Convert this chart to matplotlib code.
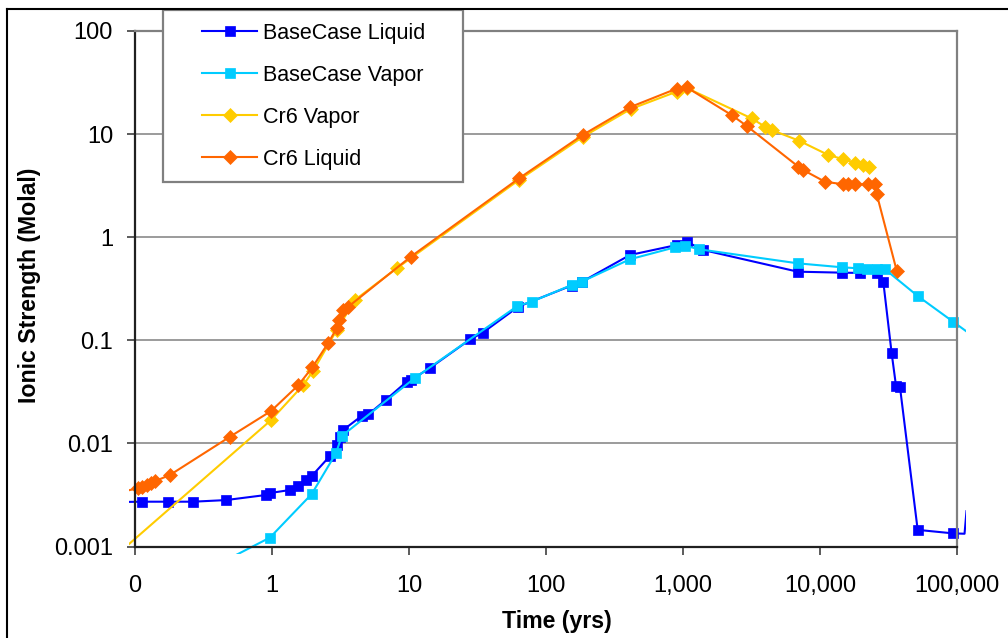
import matplotlib
matplotlib.use('Agg')
import matplotlib.pyplot as plt
from matplotlib.transforms import Bbox, TransformedBbox
from matplotlib.legend_handler import HandlerLine2D
from matplotlib.lines import Line2D

plt.rcParams['font.family'] = ['Liberation Sans', 'DejaVu Sans']

# ---------------- data (time in years, ionic strength in molal) ----------------
bl_time = [0.078, 0.112, 0.175, 0.266, 0.461, 0.904, 0.966, 1.35, 1.54, 1.76, 1.95,
           2.65, 2.97, 3.14, 3.31, 4.52, 5.05, 6.76, 9.62, 10.3, 14.2, 27.9, 34.4,
           62.8, 154, 182, 410, 899, 1064, 1406, 6876, 14390, 19590, 25940, 28970,
           33350, 35890, 38370, 51640, 93970, 113500, 117300]
bl_val = [0.00270, 0.00272, 0.00272, 0.00272, 0.00282, 0.00316, 0.00330, 0.00353,
          0.00389, 0.00442, 0.00483, 0.00755, 0.00964, 0.0116, 0.0135, 0.0185,
          0.0191, 0.0264, 0.0397, 0.0412, 0.0538, 0.102, 0.118, 0.212, 0.340, 0.368,
          0.672, 0.840, 0.904, 0.751, 0.463, 0.453, 0.450, 0.450, 0.370, 0.0748,
          0.0360, 0.0350, 0.00145, 0.00134, 0.00133, 0.0022]
bl_hidden = [0, 40, 41]

bv_time = [0.384, 0.966, 1.95, 2.93, 3.23, 11.1, 61.8, 78.7, 154, 182, 410, 875,
           1035, 1315, 6876, 14390, 19050, 21930, 25940, 29810, 51640, 93970, 147000]
bv_val = [0.00065, 0.00122, 0.00323, 0.00802, 0.0118, 0.0434, 0.215, 0.237, 0.344,
          0.370, 0.611, 0.798, 0.828, 0.763, 0.558, 0.511, 0.499, 0.489, 0.489,
          0.489, 0.269, 0.151, 0.098]
bv_hidden = [0, 22]

cv_time = [0.078, 0.978, 1.69, 2.00, 2.97, 4.03, 8.13, 63.5, 185, 415, 899, 1064,
           3170, 3970, 4440, 7030, 11500, 14650, 18000, 20700, 22900]
cv_val = [0.00089, 0.0167, 0.0368, 0.0507, 0.126, 0.246, 0.499, 3.59, 9.37, 17.5,
          25.8, 28.0, 14.2, 11.8, 10.96, 8.63, 6.27, 5.73, 5.28, 5.01, 4.76]
cv_hidden = [0]

cl_time = [0.078, 0.106, 0.112, 0.122, 0.131, 0.141, 0.180, 0.493, 0.984, 1.56,
           1.97, 2.58, 2.97, 3.10, 3.31, 3.61, 10.3, 63.5, 185, 413, 899, 1064,
           2265, 2917, 6950, 7550, 10870, 14790, 16100, 18000, 22540, 25200, 25940,
           36300]
cl_val = [0.00338, 0.00367, 0.00378, 0.00391, 0.00413, 0.00432, 0.00494, 0.0116,
          0.0206, 0.0368, 0.0547, 0.0948, 0.131, 0.157, 0.197, 0.212, 0.647, 3.72,
          9.80, 18.3, 27.6, 28.4, 15.3, 12.0, 4.83, 4.48, 3.45, 3.26, 3.26, 3.26,
          3.26, 3.26, 2.62, 0.473]
cl_hidden = [0]

x_ticks = [0.1, 1, 10, 100, 1000, 10000, 100000]
x_labels = ['0', '1', '10', '100', '1,000', '10,000', '100,000']
y_ticks = [0.001, 0.01, 0.1, 1, 10, 100]
y_labels = ['0.001', '0.01', '0.1', '1', '10', '100']

series_names = ['BaseCase Liquid', 'BaseCase Vapor', 'Cr6 Vapor', 'Cr6 Liquid']
series_colors = ['#0000FF', '#00CCFF', '#FFCC00', '#FF6600']

# ---------------- figure ----------------
W, H = 1008, 638
fig = plt.figure(figsize=(W / 100, H / 100), dpi=100)
ax_l, ax_r, ax_t, ax_b = 135, 957, 31, 546.5
axw, axh = ax_r - ax_l, ax_b - ax_t
ax = fig.add_axes([ax_l / W, 1 - ax_b / H, axw / W, axh / H])
ax.set_xscale('log')
ax.set_yscale('log')
ax.set_xlim(0.1, 1e5)
ax.set_ylim(1e-3, 100)

ax.set_xticks(x_ticks)
ax.set_xticklabels(x_labels)
ax.set_yticks(y_ticks)
ax.set_yticklabels(y_labels)
ax.minorticks_off()
ax.tick_params(axis='both', which='major', length=5.8, width=1.2, direction='out',
               labelsize=17, color='#404040')
ax.tick_params(axis='x', pad=14.5)
ax.tick_params(axis='y', pad=10)

ax.yaxis.grid(True, color='#808080', linewidth=1.1)
ax.xaxis.grid(False)
for s in ['left', 'bottom']:
    ax.spines[s].set_color('#202020')
    ax.spines[s].set_linewidth(1.6)
for s in ['right', 'top']:
    ax.spines[s].set_color('#808080')
    ax.spines[s].set_linewidth(1.6)

clip = TransformedBbox(Bbox.from_extents(-6 / axw, -7 / axh, 1 + 8.5 / axw, 1 + 7 / axh),
                       ax.transAxes)

data = [(bl_time, bl_val, bl_hidden, 's'),
        (bv_time, bv_val, bv_hidden, 's'),
        (cv_time, cv_val, cv_hidden, 'D'),
        (cl_time, cl_val, cl_hidden, 'D')]
handles = []
for (t, v, hid, mk), name, col in zip(data, series_names, series_colors):
    idx = [i for i in range(len(t)) if i not in hid]
    ms = 7.8 if mk == 's' else 7.4
    ln, = ax.plot(t, v, color=col, lw=1.5, marker=mk, markersize=ms,
                  markerfacecolor=col, markeredgecolor=col, markeredgewidth=0.5,
                  markevery=idx, label=name)
    ln.set_clip_box(clip)
    handles.append(ln)

ax.set_xlabel('Time (yrs)', fontsize=16.7, fontweight='bold')
ax.xaxis.set_label_coords((557 - ax_l) / axw, -(610 - ax_b) / axh)
ax.set_ylabel('Ionic Strength (Molal)', fontsize=16.7, fontweight='bold')
ax.yaxis.set_label_coords(-(ax_l - 41) / axw, (ax_b - 285) / axh)

# ---------------- legend ----------------
fs = 15.5
fs_px = fs * 100 / 72
bp = 0.6
hmap = {h: HandlerLine2D(xpad=(39 - bp * fs_px) / fs_px, numpoints=1) for h in handles}
leg = ax.legend(handles=handles, handler_map=hmap, loc='upper left',
                bbox_to_anchor=(163 / W, 1 - 183 / H, 300 / W, 173 / H),
                bbox_transform=fig.transFigure, mode='expand', borderaxespad=0,
                fontsize=fs, frameon=True, fancybox=False, framealpha=1,
                edgecolor='#808080', borderpad=bp, labelspacing=0.97,
                handlelength=(94 - bp * fs_px) / fs_px, handletextpad=0.28,
                numpoints=1)
leg.get_frame().set_linewidth(1.6)

# ---------------- chart-area border ----------------
fig.add_artist(Line2D([7 / W, 7 / W], [0, 1 - 9 / H], transform=fig.transFigure,
                      color='black', lw=1.5))
fig.add_artist(Line2D([7 / W, 1], [1 - 9 / H, 1 - 9 / H], transform=fig.transFigure,
                      color='black', lw=1.5))

fig.savefig('out.png', dpi=100)
